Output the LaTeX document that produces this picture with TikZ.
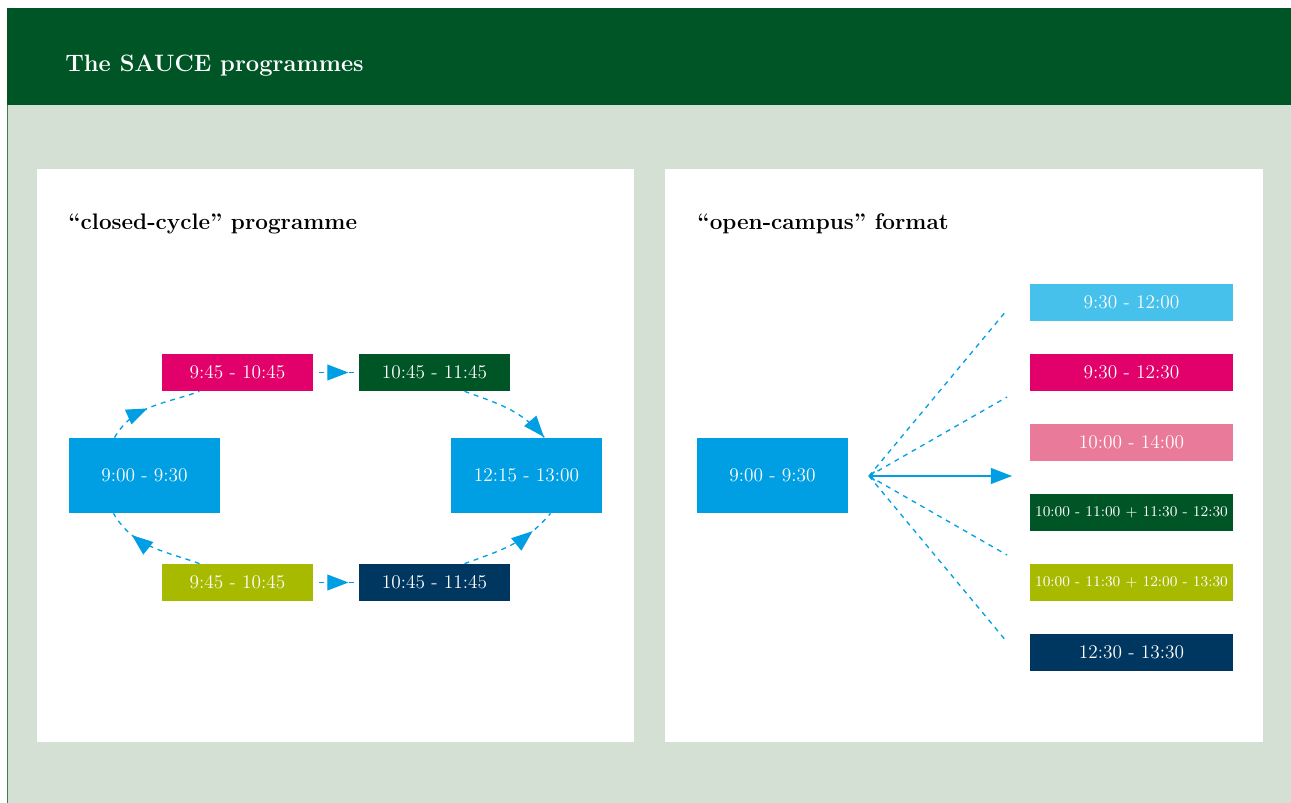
\documentclass[tikz,border=0pt]{standalone}
\usetikzlibrary{arrows.meta,calc,decorations.markings}

\definecolor{sgreen}{RGB}{0,85,38}
\definecolor{sedge}{RGB}{60,128,80}
\definecolor{sbg}{RGB}{213,224,213}
\definecolor{scyan}{RGB}{0,159,227}
\definecolor{slight}{RGB}{70,193,235}
\definecolor{smagenta}{RGB}{226,0,106}
\definecolor{spink}{RGB}{234,122,154}
\definecolor{solive}{RGB}{167,186,0}
\definecolor{snavy}{RGB}{0,55,96}

\tikzset{
  slot/.style={rectangle, fill=#1, text=white, inner sep=0pt,
    minimum width=3.02cm, minimum height=0.74cm, font=\fontsize{11}{13}\selectfont},
  bigslot/.style={slot=#1, minimum height=1.5cm},
  wideslot/.style={slot=#1, minimum width=4.06cm},
  heading/.style={anchor=base west, inner sep=0pt, font=\bfseries\fontsize{12.8}{15}\selectfont},
  bigtip/.tip={Triangle[length=12pt,width=9pt]},
  link/.style={draw=scyan, line width=0.75pt, dash pattern=on 2.8pt off 2.8pt},
  flow/.style={link, postaction={decorate, decoration={markings,
    mark=at position #1 with {\arrow{bigtip}}}}}
}

\begin{document}
\begin{tikzpicture}[x=0.02cm, y=0.02cm]
  \useasboundingbox (0,0) rectangle (1291,-803);
  %%frame
  \fill[sbg] (7,-8) rectangle (1291,-803);
  \draw[sedge, line width=1pt] (7.5,-8) to (7.5,-803);
  \fill[sgreen] (7,-8) rectangle (1291,-105);
  \node[heading, text=white, font=\bfseries\fontsize{13.5}{16}\selectfont] (title) at (65,-72){The SAUCE programmes};
  \fill[white] (37,-169) rectangle (634,-742);
  \fill[white] (665,-169) rectangle (1263,-742);

  %%closed cycle
  \node[heading] (closedhead) at (68,-230){“closed-cycle” programme};
  \node[bigslot=scyan] (A) at (144.5,-475.5){9:00 - 9:30};
  \node[slot=smagenta] (B) at (237.5,-372.5){9:45 - 10:45};
  \node[slot=sgreen] (C) at (434.5,-372.5){10:45 - 11:45};
  \node[bigslot=scyan] (D) at (526.5,-475.5){12:15 - 13:00};
  \node[slot=solive] (E) at (237.5,-582.5){9:45 - 10:45};
  \node[slot=snavy] (F) at (434.5,-582.5){10:45 - 11:45};

  \draw[flow=0.45] ($(A.north)+(-30,0)$) to[out=60, in=200] ($(B.south)+(-38,0)$);
  \draw[flow=0.8] ($(B.east)+(6,0)$) to ($(C.west)+(-3,0)$);
  \draw[flow=0.99] ($(C.south)+(30,0)$) to[out=-20, in=130] ($(D.north)+(18,0)$);
  \draw[flow=0.72] ($(E.north)+(-38,0)$) to[out=160, in=-60] ($(A.south)+(-31,0)$);
  \draw[flow=0.8] ($(E.east)+(6,0)$) to ($(F.west)+(-3,0)$);
  \draw[flow=0.75] ($(F.north)+(30,0)$) to[out=20, in=-130] ($(D.south)+(24,0)$);

  %%open campus
  \node[heading] (openhead) at (697,-230){“open-campus” format};
  \node[bigslot=scyan] (G) at (772.5,-475.5){9:00 - 9:30};
  \coordinate (hub) at (869,-476);
  \coordinate (end1) at (1007,-310);
  \coordinate (end2) at (1007,-397);
  \coordinate (endm) at (1012,-476);
  \coordinate (end4) at (1007,-555);
  \coordinate (end5) at (1007,-642);

  \draw[link] (hub) to (end1);
  \draw[link] (hub) to (end2);
  \draw[link] (hub) to (end4);
  \draw[link] (hub) to (end5);
  \draw[scyan, line width=0.9pt, {Straight Barb[length=2.5pt,width=5pt]}-bigtip] (hub) to (endm);

  \node[wideslot=slight] (R1) at (1131.5,-302.5){9:30 - 12:00};
  \node[wideslot=smagenta] (R2) at (1131.5,-372.5){9:30 - 12:30};
  \node[wideslot=spink] (R3) at (1131.5,-442.5){10:00 - 14:00};
  \node[wideslot=sgreen, font=\fontsize{8.5}{10}\selectfont] (R4) at (1131.5,-512.5){10:00 - 11:00 + 11:30 - 12:30};
  \node[wideslot=solive, font=\fontsize{8.5}{10}\selectfont] (R5) at (1131.5,-582.5){10:00 - 11:30 + 12:00 - 13:30};
  \node[wideslot=snavy] (R6) at (1131.5,-652.5){12:30 - 13:30};
\end{tikzpicture}
\end{document}
